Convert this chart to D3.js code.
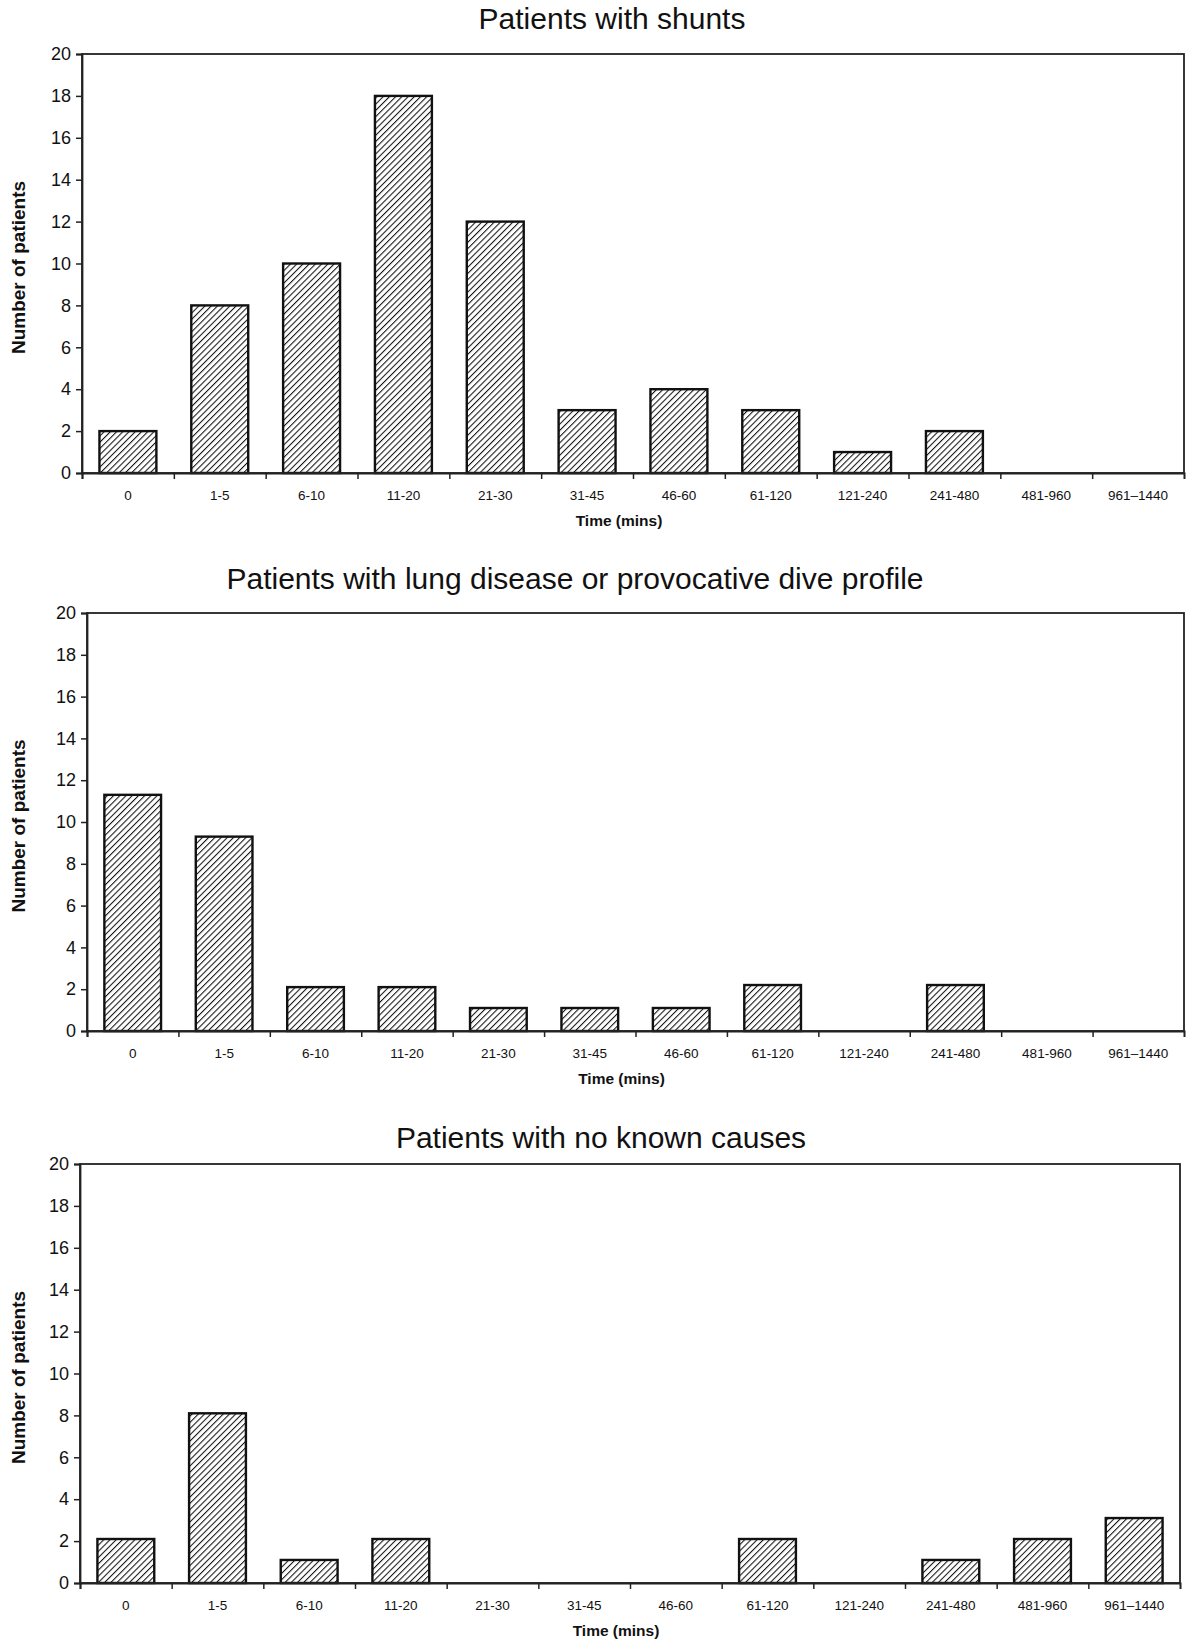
<!DOCTYPE html>
<html>
<head>
<meta charset="utf-8">
<script src="https://cdn.jsdelivr.net/npm/d3@7"></script>
<style>
  body { margin: 0; background: #fff; }
  text { font-family: "Liberation Sans", Arial, sans-serif; fill: #111; }
</style>
</head>
<body>
<div id="chart"></div>
<script>
// time bins (minutes)
const categories = ["0", "1-5", "6-10", "11-20", "21-30", "31-45", "46-60", "61-120", "121-240", "241-480", "481-960", "961\u20131440"];
const shuntValues = [2, 8, 10, 18, 12, 3, 4, 3, 1, 2, 0, 0];
const lungValues = [11.3, 9.3, 2.1, 2.1, 1.1, 1.1, 1.1, 2.2, 0, 2.2, 0, 0];
const unknownValues = [2.1, 8.1, 1.1, 2.1, 0, 0, 0, 2.1, 0, 1.1, 2.1, 3.1];
const yTicks = [0, 2, 4, 6, 8, 10, 12, 14, 16, 18, 20];
const titles = ["Patients with shunts", "Patients with lung disease or provocative dive profile", "Patients with no known causes"];

const W = 1186, H = 1652;

// layout for each panel
const panels = [
  {title: titles[0], values: shuntValues,   left: 82, right: 1184, top: 54,   bottom: 473,  titleX: 612, titleY: 29},
  {title: titles[1], values: lungValues,    left: 87, right: 1184, top: 613,  bottom: 1031, titleX: 575, titleY: 589},
  {title: titles[2], values: unknownValues, left: 80, right: 1180, top: 1164, bottom: 1583, titleX: 601, titleY: 1148}
];

const svg = d3.select("#chart").append("svg")
    .attr("width", W).attr("height", H)
    .attr("viewBox", `0 0 ${W} ${H}`);

// diagonal hatch fill
const step = 4.4;
const pat = svg.append("defs").append("pattern")
    .attr("id", "hatch")
    .attr("patternUnits", "userSpaceOnUse")
    .attr("width", step).attr("height", step)
    .attr("patternTransform", "rotate(45)");
pat.append("rect").attr("width", step).attr("height", step).attr("fill", "#fff");
pat.append("line").attr("x1", 0).attr("y1", 0).attr("x2", 0).attr("y2", step)
    .attr("stroke", "#111").attr("stroke-width", 2.1);

panels.forEach(p => {
  const g = svg.append("g");

  const x = d3.scaleBand().domain(categories).range([p.left, p.right]).paddingInner(0.38).paddingOuter(0.19);
  const xEdge = d3.scaleLinear().domain([0, categories.length]).range([p.left, p.right]);
  const y = d3.scaleLinear().domain([0, 20]).range([p.bottom, p.top]);

  // title
  g.append("text")
    .attr("x", p.titleX).attr("y", p.titleY)
    .attr("text-anchor", "middle")
    .style("font-size", "30px")
    .text(p.title);

  // bars
  g.selectAll("rect.bar")
    .data(p.values.map((v, i) => ({cat: categories[i], v})).filter(d => d.v > 0))
    .enter().append("rect")
    .attr("class", "bar")
    .attr("x", d => x(d.cat))
    .attr("width", x.bandwidth())
    .attr("y", d => y(d.v))
    .attr("height", d => y(0) - y(d.v))
    .attr("fill", "url(#hatch)")
    .attr("stroke", "#111")
    .attr("stroke-width", 2.4);

  // frame
  g.append("rect")
    .attr("x", p.left).attr("y", p.top)
    .attr("width", p.right - p.left).attr("height", p.bottom - p.top)
    .attr("fill", "none").attr("stroke", "#222").attr("stroke-width", 1.8);

  // y axis
  const yAxis = g.append("g")
    .attr("transform", `translate(${p.left},0)`)
    .call(d3.axisLeft(y).tickValues(yTicks).tickSize(6).tickPadding(5));
  yAxis.select(".domain").attr("stroke", "#222").attr("stroke-width", 1.8);
  yAxis.selectAll(".tick line").attr("stroke", "#222").attr("stroke-width", 1.5);
  yAxis.selectAll(".tick text")
    .style("font-size", "18px").style("font-family", "Liberation Sans, Arial, sans-serif").attr("fill", "#111");

  // x axis: tick marks at bin edges
  const xTicks = g.append("g")
    .attr("transform", `translate(0,${p.bottom})`)
    .call(d3.axisBottom(xEdge).tickValues(d3.range(categories.length)).tickSize(6).tickFormat(""));
  xTicks.select(".domain").attr("stroke", "#222").attr("stroke-width", 2);
  xTicks.selectAll(".tick line").attr("stroke", "#222").attr("stroke-width", 1.5);

  // x axis: category labels
  const xLabels = g.append("g")
    .attr("transform", `translate(0,${p.bottom})`)
    .call(d3.axisBottom(x).tickSize(0).tickPadding(17));
  xLabels.select(".domain").remove();
  xLabels.selectAll(".tick text")
    .style("font-size", "13.5px").style("font-family", "Liberation Sans, Arial, sans-serif").attr("fill", "#222");

  // axis titles
  g.append("text")
    .attr("x", (p.left + p.right) / 2 - 14).attr("y", p.bottom + 53)
    .attr("text-anchor", "middle")
    .style("font-size", "15.5px").style("font-weight", "bold")
    .text("Time (mins)");

  g.append("text")
    .attr("transform", `translate(25,${(p.top + p.bottom) / 2 + 4}) rotate(-90)`)
    .attr("text-anchor", "middle")
    .style("font-size", "19px").style("font-weight", "bold")
    .text("Number of patients");
});
</script>
</body>
</html>
